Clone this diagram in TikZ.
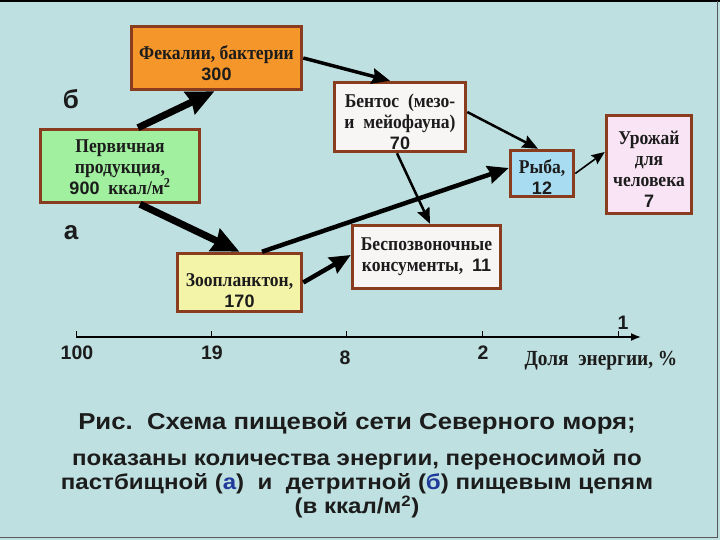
\documentclass[tikz,border=0pt]{standalone}
\usepackage{fontspec}
\setmainfont[FakeStretch=0.9]{Liberation Serif}
\newfontfamily\numfont{Liberation Sans}
\newfontfamily\capfont[FakeStretch=1.12]{Liberation Sans}
\newcommand\bxnum[1]{{\numfont\fontsize{18}{21}\selectfont #1}}
\usetikzlibrary{arrows.meta}
\definecolor{bg}{HTML}{BFE0E0}
\definecolor{brd}{HTML}{8A3C1E}
\definecolor{txt}{HTML}{1C1C1C}
\definecolor{fekal}{HTML}{F5962A}
\definecolor{perv}{HTML}{A0F0A0}
\definecolor{white2}{HTML}{F8F5F5}
\definecolor{fish}{HTML}{A8DCF0}
\definecolor{crop}{HTML}{F8E4F4}
\definecolor{zoo}{HTML}{F4F4A8}
\definecolor{letblue}{HTML}{1F3A9A}
\begin{document}
\begin{tikzpicture}[x=1pt,y=-1pt,
  box/.style={draw=brd, line width=3.5pt, inner sep=0pt},
  boxtext/.style={inner sep=0pt, align=center,
    font=\fontsize{19.5}{21}\selectfont\bfseries, text=txt},
  arr/.style={draw=black, -{Stealth[length=#1*2.6pt+9pt, width=#1*2.4pt+7pt, inset=2pt]}, line width=#1 pt},
  axlab/.style={font=\numfont\fontsize{19.5}{22}\selectfont\bfseries, text=txt},
  chainlab/.style={font=\numfont\fontsize{26}{28}\selectfont\bfseries, text=txt},
  caplab/.style={text=txt, align=center}
]
\useasboundingbox (0,0) rectangle (720,540);
\fill[bg] (0,0) rectangle (720,540);
\draw[black, line width=2pt] (0,1) -- (720,1);
\draw[gray!70!black, line width=1pt] (717,1) -- (717,537) -- (0,537);

% boxes
\node[box, fill=fekal, minimum width=170pt, minimum height=63pt] (F) at (216.5,58) {};
\node[boxtext] (Ft) at ([yshift=-5pt]F.center) {Фекалии, бактерии\\\bxnum{300}};
\node[box, fill=perv, minimum width=159pt, minimum height=73pt] (P) at (120,166) {};
\node[boxtext] (Pt) at ([yshift=-1.5pt]P.center)
  {Первичная\\продукция,\\\bxnum{900}\ \ ккал/м\textsuperscript{2}};
\node[box, fill=white2, minimum width=131pt, minimum height=69pt] (B) at (400,117) {};
\node[boxtext] (Bt) at ([yshift=-5pt]B.center)
  {Бентос\ \ (мезо-\\и\ \ мейофауна)\\\bxnum{70}};
\node[box, fill=fish, minimum width=63pt, minimum height=46pt] (R) at (542,173.5) {};
\node[boxtext] (Rt) at ([yshift=-3.5pt]R.center) {Рыба,\\\bxnum{12}};
\node[box, fill=crop, minimum width=85pt, minimum height=98pt] (U) at (649,164.5) {};
\node[boxtext] (Ut) at ([yshift=-4.5pt]U.center) {Урожай\\для\\человека\\\bxnum{7}};
\node[box, fill=white2, minimum width=148pt, minimum height=63pt] (I) at (426.5,257) {};
\node[boxtext] (It) at (I.center) {Беспозвоночные\\консументы,\ \ \bxnum{11}};
\node[box, fill=zoo, minimum width=124pt, minimum height=58pt] (Z) at (239.5,282.5) {};
\node[boxtext] (Zt) at ([yshift=-8pt]Z.center) {Зоопланктон,\\\bxnum{170}};

% chain letters
\node[chainlab] (lb) at (71,99) {б};
\node[chainlab] (la) at (71,233) {а};

% arrows
\draw[arr=7] ([xshift=18pt]P.north) -- ([xshift=-2pt]F.south);
\draw[arr=7] ([xshift=20pt]P.south) -- (Z.north);
\draw[arr=3.5] (F.east) -- ([xshift=-10pt]B.north);
\draw[arr=2.5] ([yshift=5pt]B.east) -- ([xshift=-4pt]R.north);
\draw[arr=2.5] ([xshift=-3pt]B.south) -- ([xshift=3.5pt]I.north);
\draw[arr=4.5] ([xshift=22.5pt]Z.north) -- ([yshift=5.5pt]R.west);
\draw[arr=4.5] (Z.east) -- ([yshift=2pt]I.west);
\draw[arr=1.6] (R.east) -- ([yshift=12.5pt]U.west);

% axis
\coordinate (a0) at (76,337);
\coordinate (a1) at (211,337);
\coordinate (a2) at (346,337);
\coordinate (a3) at (482,337);
\coordinate (a4) at (618,337);
\coordinate (aend) at (641,337);
\draw[line width=1.6pt, -{Latex[length=10pt, width=8pt]}] (a0) -- (aend);
\foreach \c in {a0,a1,a2,a3,a4} \draw[line width=1pt] (\c) -- ++(0,-6);
\node[axlab] (t0) at (77,353) {100};
\node[axlab] (t1) at (212,353) {19};
\node[axlab] (t2) at (345,358) {8};
\node[axlab] (t3) at (483,353) {2};
\node[axlab] (t4) at (623,323) {1};
\node[font=\fontsize{21.5}{22}\selectfont\bfseries, text=txt] (dl) at (601,361) {Доля\ \ энергии, \%};

% caption
\node[caplab, font=\capfont\fontsize{23}{26}\selectfont\bfseries] (c1) at (357,423)
  {Рис.\ \ Схема пищевой сети Северного моря;};
\node[caplab, font=\capfont\fontsize{21.5}{24}\selectfont\bfseries] (c2) at (357,484)
  {показаны количества энергии, переносимой по\\
   пастбищной ({\color{letblue}а})\ \ и\ \ детритной ({\color{letblue}б}) пищевым цепям\\
   (в ккал/м\textsuperscript{2})};
\end{tikzpicture}
\end{document}
